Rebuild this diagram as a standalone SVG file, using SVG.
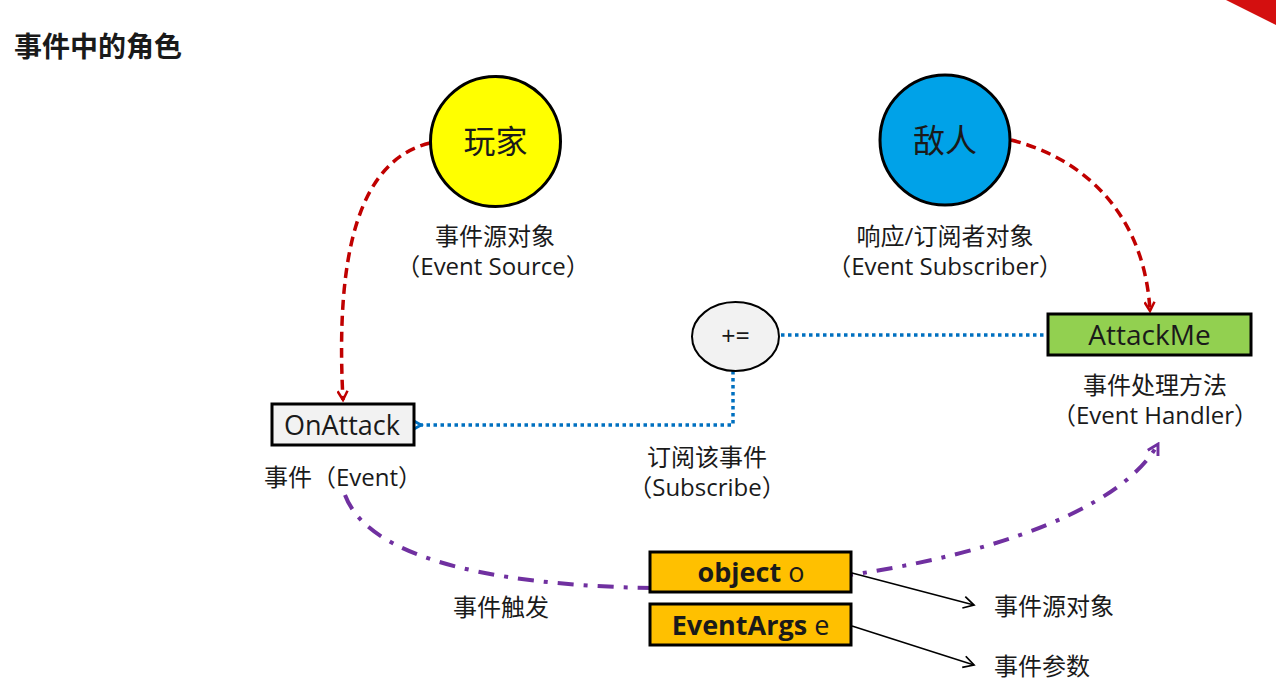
<svg xmlns="http://www.w3.org/2000/svg" width="1276" height="699" viewBox="0 0 1276 699">
<style>
.t{font-family:"Open Sans","Noto Sans CJK SC","Noto Sans",sans-serif;fill:#1a1a1a}
.lbl{font-size:24px;text-anchor:middle}
.red{fill:none;stroke:#c00000;stroke-width:3.5;stroke-dasharray:10 6}
.blue{fill:none;stroke:#0070c0;stroke-width:3.5;stroke-dasharray:3.5 3.5}
.pur{fill:none;stroke:#7030a0;stroke-width:4;stroke-dasharray:16 10 4 10}
.blk{fill:none;stroke:#000;stroke-width:1.5}
</style>
<defs>
<marker id="ar" viewBox="0 0 12 12" refX="10" refY="6" markerWidth="12" markerHeight="12" markerUnits="userSpaceOnUse" orient="auto"><path d="M1,1 L10,6 L1,11" fill="none" stroke="#c00000" stroke-width="2.5"/></marker>
<marker id="ab" viewBox="0 0 12 12" refX="3" refY="6" markerWidth="14" markerHeight="14" markerUnits="userSpaceOnUse" orient="auto"><path d="M11,1 L2,6 L11,11" fill="none" stroke="#0070c0" stroke-width="2.5"/></marker>
<marker id="ap" viewBox="0 0 12 12" refX="10" refY="6" markerWidth="14" markerHeight="14" markerUnits="userSpaceOnUse" orient="auto"><path d="M1,1 L10,6 L1,11" fill="none" stroke="#7030a0" stroke-width="2.5"/></marker>
<marker id="ak" viewBox="0 0 12 12" refX="10" refY="6" markerWidth="14" markerHeight="14" markerUnits="userSpaceOnUse" orient="auto"><path d="M1,1 L10,6 L1,11" fill="none" stroke="#000" stroke-width="1.5"/></marker>
</defs>
<rect width="1276" height="699" fill="#fff"/>
<polygon points="1226,0 1276,0 1276,25" fill="#d40f0f"/>
<text class="t" x="14" y="57" font-size="28" font-weight="bold" fill="#111">事件中的角色</text>

<g id="connectors">
<path class="red" d="M430,143 C360,160 335,250 343,400" marker-end="url(#ar)"/>
<path class="red" d="M1011,140 C1090,160 1145,220 1150,311" marker-end="url(#ar)"/>
<path class="blue" d="M781,335 L1047,335"/>
<path class="blue" d="M733,371 L733,425 L420,425" marker-end="url(#ab)"/>
<path class="pur" d="M345,495 C375,575 560,590 700,588 C900,582 1110,530 1158,444" marker-end="url(#ap)"/>
<path class="blk" d="M852,573 L974,605" marker-end="url(#ak)"/>
<path class="blk" d="M852,626 L974,665" marker-end="url(#ak)"/>
</g>

<g id="player">
<circle cx="495.5" cy="141.5" r="65" fill="#ffff00" stroke="#000" stroke-width="3"/>
<text class="t" x="495.5" y="153" font-size="32" text-anchor="middle">玩家</text>
<text class="t lbl" x="495" y="245">事件源对象</text>
<text class="t lbl" x="493" y="275">（Event Source）</text>
</g>
<g id="enemy">
<circle cx="945" cy="140" r="65" fill="#00a2e8" stroke="#000" stroke-width="3"/>
<text class="t" x="945" y="152" font-size="32" text-anchor="middle">敌人</text>
<text class="t lbl" x="945" y="245">响应/订阅者对象</text>
<text class="t lbl" x="945" y="275">（Event Subscriber）</text>
</g>
<g id="plus">
<ellipse cx="735.5" cy="336.5" rx="43.5" ry="34.5" fill="#f2f2f2" stroke="#000" stroke-width="2"/>
<text class="t" x="735.5" y="345" font-size="25" text-anchor="middle">+=</text>
</g>
<g id="attackme">
<rect x="1048" y="314" width="203" height="41" fill="#92d050" stroke="#000" stroke-width="3"/>
<text class="t" x="1149.5" y="345" font-size="28" text-anchor="middle">AttackMe</text>
<text class="t lbl" x="1155" y="394">事件处理方法</text>
<text class="t lbl" x="1155" y="424">（Event Handler）</text>
</g>
<g id="onattack">
<rect x="272" y="404" width="142" height="41" fill="#f2f2f2" stroke="#000" stroke-width="3"/>
<text class="t" x="342" y="435" font-size="27" text-anchor="middle">OnAttack</text>
<text class="t" x="264" y="486" font-size="24">事件（Event）</text>
</g>
<g id="subscribe">
<text class="t lbl" x="707" y="466">订阅该事件</text>
<text class="t lbl" x="707" y="496">（Subscribe）</text>
</g>
<g id="trigger">
<text class="t" x="453" y="616" font-size="24">事件触发</text>
</g>
<g id="objecto">
<rect x="650" y="552" width="201" height="40" fill="#ffc000" stroke="#000" stroke-width="3"/>
<text class="t" x="751" y="582" font-size="27" text-anchor="middle"><tspan font-weight="bold">object</tspan> o</text>
</g>
<g id="eventargs">
<rect x="650" y="604" width="201" height="41" fill="#ffc000" stroke="#000" stroke-width="3"/>
<text class="t" x="750.5" y="635" font-size="27" text-anchor="middle"><tspan font-weight="bold">EventArgs</tspan> e</text>
</g>
<g id="labels">
<text class="t" x="994" y="615" font-size="24">事件源对象</text>
<text class="t" x="994" y="675" font-size="24">事件参数</text>
</g>
</svg>
